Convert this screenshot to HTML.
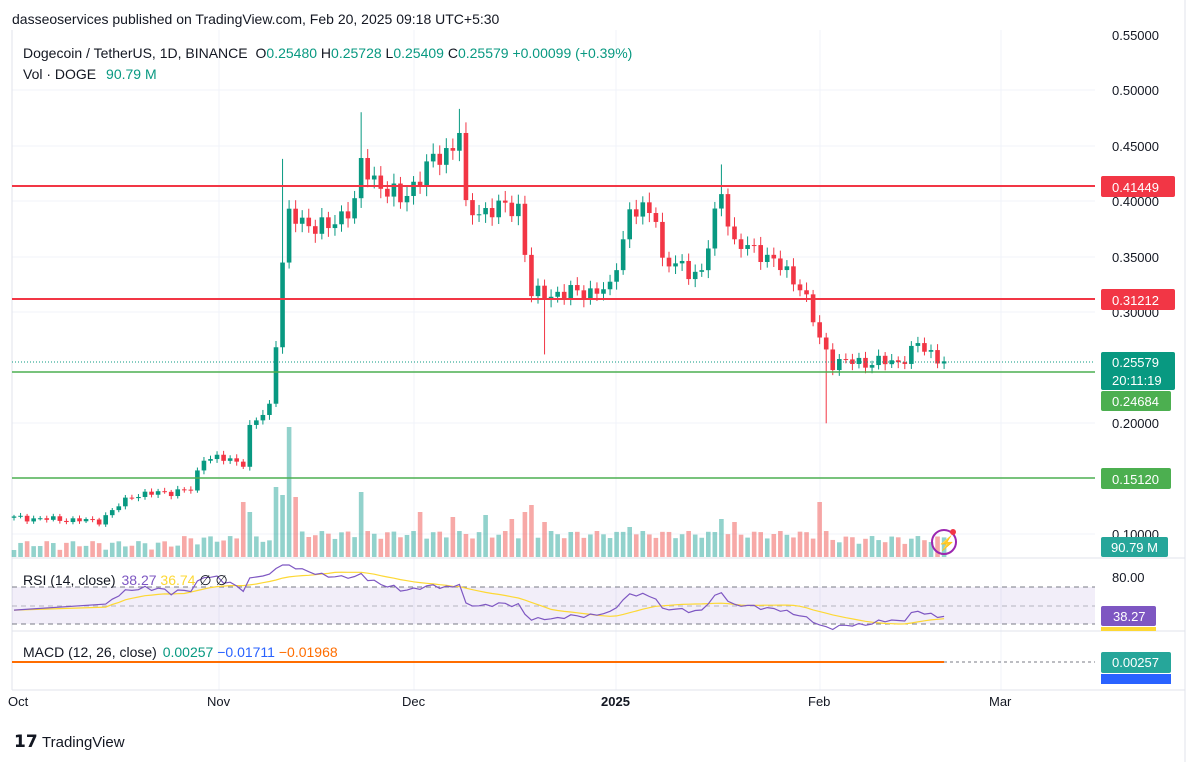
<!DOCTYPE html>
<html><head><meta charset="utf-8"><style>
body{margin:0;background:#fff;width:1199px;height:762px;overflow:hidden;font-family:"Liberation Sans",sans-serif}
svg text{font-family:"Liberation Sans",sans-serif}
</style></head><body>
<svg id="s" width="1199" height="762" xmlns="http://www.w3.org/2000/svg">
<rect width="1199" height="762" fill="#fff"/>
<g stroke="#f0f3fa" stroke-width="1">
<line x1="12" y1="90" x2="1095" y2="90"/><line x1="12" y1="146" x2="1095" y2="146"/><line x1="12" y1="201" x2="1095" y2="201"/><line x1="12" y1="257" x2="1095" y2="257"/><line x1="12" y1="312" x2="1095" y2="312"/><line x1="12" y1="423" x2="1095" y2="423"/><line x1="12" y1="534" x2="1095" y2="534"/>
<line x1="219" y1="30" x2="219" y2="690"/><line x1="414" y1="30" x2="414" y2="690"/><line x1="616" y1="30" x2="616" y2="690"/><line x1="820" y1="30" x2="820" y2="690"/><line x1="1001" y1="30" x2="1001" y2="690"/>
</g>
<line x1="12" y1="30" x2="12" y2="690" stroke="#e0e3eb"/>
<line x1="1185" y1="0" x2="1185" y2="762" stroke="#e0e3eb"/>
<line x1="12" y1="558" x2="1185" y2="558" stroke="#e0e3eb"/>
<line x1="12" y1="631" x2="1185" y2="631" stroke="#e0e3eb"/>
<line x1="12" y1="690" x2="1185" y2="690" stroke="#e0e3eb"/>
<rect x="12" y="587" width="1083" height="37" fill="#7e57c2" opacity="0.1"/>
<g stroke="#787b86" stroke-dasharray="5,4"><line x1="12" y1="587" x2="1095" y2="587"/><line x1="12" y1="606" x2="1095" y2="606" opacity="0.5"/><line x1="12" y1="624" x2="1095" y2="624"/></g>
<g id="vol"></g><g id="cnd"></g><g id="rsi"></g>
<line x1="12" y1="186" x2="1095" y2="186" stroke="#f23645" stroke-width="2"/>
<line x1="12" y1="299" x2="1095" y2="299" stroke="#f23645" stroke-width="2"/>
<line x1="12" y1="372" x2="1095" y2="372" stroke="#4caf50" stroke-width="1.5"/>
<line x1="12" y1="478" x2="1095" y2="478" stroke="#4caf50" stroke-width="1.5"/>
<line x1="12" y1="362" x2="1095" y2="362" stroke="#089981" stroke-dasharray="1,2"/>
<line x1="12" y1="662" x2="944" y2="662" stroke="#ff6d00" stroke-width="2"/>
<line x1="944" y1="662" x2="1095" y2="662" stroke="#787b86" stroke-dasharray="3,3"/>
<g font-size="13" fill="#131722">
<text x="1112" y="40">0.55000</text><text x="1112" y="95">0.50000</text><text x="1112" y="151">0.45000</text><text x="1112" y="206">0.40000</text><text x="1112" y="262">0.35000</text><text x="1112" y="317">0.30000</text><text x="1112" y="428">0.20000</text><text x="1112" y="539">0.10000</text><text x="1112" y="582">80.00</text>
</g>
<rect x="1101" y="176" width="74" height="21" rx="2" fill="#f23645"/><text x="1112" y="192" font-size="13" fill="#fff">0.41449</text>
<rect x="1101" y="289" width="74" height="21" rx="2" fill="#f23645"/><text x="1112" y="305" font-size="13" fill="#fff">0.31212</text>
<rect x="1101" y="352" width="74" height="38" rx="2" fill="#089981"/><text x="1112" y="367" font-size="13" fill="#fff">0.25579</text><text x="1112" y="385" font-size="13" fill="#fff">20:11:19</text>
<rect x="1101" y="391" width="70" height="20" rx="2" fill="#4caf50"/><text x="1112" y="406" font-size="13" fill="#fff">0.24684</text>
<rect x="1101" y="468" width="70" height="21" rx="2" fill="#4caf50"/><text x="1112" y="484" font-size="13" fill="#fff">0.15120</text>
<rect x="1101" y="537" width="67" height="20" rx="2" fill="#26a69a"/><text x="1111" y="552" font-size="13" fill="#fff">90.79 M</text>
<rect x="1101" y="606" width="55" height="20" rx="2" fill="#7e57c2"/><text x="1113" y="621" font-size="13" fill="#fff">38.27</text>
<rect x="1101" y="627" width="55" height="4" fill="#fdd835"/>
<rect x="1101" y="652" width="70" height="21" rx="2" fill="#26a69a"/><text x="1112" y="667" font-size="13" fill="#fff">0.00257</text>
<rect x="1101" y="674" width="70" height="10" fill="#2962ff"/>
<g font-size="13" fill="#131722"><text x="8" y="706">Oct</text><text x="207" y="706">Nov</text><text x="402" y="706">Dec</text><text x="601" y="706" font-weight="bold">2025</text><text x="808" y="706">Feb</text><text x="989" y="706">Mar</text></g>
<text x="12" y="24" font-size="14" fill="#131722">dasseoservices published on TradingView.com, Feb 20, 2025 09:18 UTC+5:30</text>
<text x="23" y="58" font-size="14" fill="#131722">Dogecoin / TetherUS, 1D, BINANCE <tspan dx="4">O</tspan><tspan fill="#089981">0.25480</tspan> <tspan>H</tspan><tspan fill="#089981">0.25728</tspan> <tspan>L</tspan><tspan fill="#089981">0.25409</tspan> <tspan>C</tspan><tspan fill="#089981">0.25579 +0.00099 (+0.39%)</tspan></text>
<text x="23" y="79" font-size="14" fill="#131722">Vol · DOGE <tspan fill="#089981" dx="6">90.79 M</tspan></text>
<text x="23" y="585" font-size="14" fill="#131722">RSI (14, close) <tspan fill="#7e57c2" dx="2">38.27</tspan> <tspan fill="#fdd835">36.74</tspan> <tspan>∅ ∅</tspan></text>
<text x="23" y="657" font-size="14" fill="#131722">MACD (12, 26, close) <tspan fill="#089981" dx="2">0.00257</tspan> <tspan fill="#2962ff">−0.01711</tspan> <tspan fill="#ff6d00">−0.01968</tspan></text>
<circle cx="944" cy="542" r="12" fill="none" stroke="#9c27b0" stroke-width="2"/><text x="938" y="548" font-size="14" fill="#9c27b0">⚡</text><circle cx="953" cy="532" r="3" fill="#f23645"/>
<text x="14" y="747" font-size="17" font-weight="bold" fill="#131722">𝟭𝟳</text>
<text x="42" y="747" font-size="15" fill="#131722">TradingView</text>
</svg>
<script>
var K=[[0,.115],[13,.112],[18,.135],[27,.14],[29,.17],[35,.165],[36,.195],[39,.215],[40,.275],[41,.345],[42,.385],[48,.375],[52,.4],[53,.43],[59,.4],[63,.43],[67,.45],[68,.465],[69,.39],[77,.395],[78,.355],[79,.315],[91,.32],[92,.345],[94,.39],[98,.39],[99,.345],[105,.335],[107,.385],[108,.41],[110,.36],[114,.355],[120,.325],[121,.31],[123,.275],[125,.255],[135,.255],[138,.27],[142,.2558]];
function base(d){for(var i=0;i<K.length-1;i++){if(d>=K[i][0]&&d<=K[i+1][0]){var t=(d-K[i][0])/(K[i+1][0]-K[i][0]||1);return K[i][1]+(K[i+1][1]-K[i][1])*t;}}return .2558;}
function Y(p){return 90+(0.5-p)*1111;}
var C=[],ns="http://www.w3.org/2000/svg";
for(var d=0;d<=142;d++){C.push(base(d)*(1+0.018*Math.sin(d*2.3)+0.01*Math.cos(d*5.1)));}
C[142]=.25579;
var g=document.getElementById('cnd'),v=document.getElementById('vol');
function el(p,tag,a){var e=document.createElementNS(ns,tag);for(var k in a)e.setAttribute(k,a[k]);p.appendChild(e);}
var spikes={40:70,41:62,42:130,35:55,53:65,62:45,67:40,72:42,76:38,78:45,79:52,81:35,94:30,108:38,110:35,123:55,36:45,43:60};
for(var d=0;d<=142;d++){var o=d?C[d-1]:C[0]*0.99,c=C[d],up=c>=o,col=up?'#089981':'#f23645';
var x=14+d*6.55,hi=Math.max(o,c)*(1+0.012+0.01*Math.abs(Math.sin(d*1.7))),lo=Math.min(o,c)*(1-0.012-0.01*Math.abs(Math.cos(d*1.3)));
if(d==68)hi=.483;if(d==81)lo=.262;if(d==124)lo=.2;if(d==41)hi=.438;if(d==53)hi=.48;if(d==108)hi=.433;
el(g,'line',{x1:x,x2:x,y1:Y(hi),y2:Y(lo),stroke:col,'stroke-width':1});
var t=Y(Math.max(o,c)),b=Y(Math.min(o,c));el(g,'rect',{x:x-2.3,y:t,width:4.6,height:Math.max(1,b-t),fill:col});
var h=spikes[d]||(7+9*Math.abs(Math.sin(d*0.9))+(d>40&&d<125?10:(d>25?5:0)));
el(v,'rect',{x:x-2.3,y:557-h,width:4.6,height:h,fill:up?'#26a69a':'#ef5350',opacity:0.5});}
// RSI
var ag=0,al=0,R=[];for(var d=1;d<=142;d++){var ch=C[d]-C[d-1],gn=Math.max(ch,0),ls=Math.max(-ch,0);if(d<=14){ag+=gn/14;al+=ls/14;}else{ag=(ag*13+gn)/14;al=(al*13+ls)/14;}if(d>=14)R.push([d,al?100-100/(1+ag/al):60]);}
R.unshift([0,45]);
function ry(r){return 587+(70-r)*37/40;}
var pts=R.map(function(p){return (14+p[0]*6.55)+','+Math.max(565,ry(p[1])).toFixed(1)}).join(' ');
var pm=[];for(var i=0;i<R.length;i++){var s=0,n=0;for(var j=Math.max(0,i-13);j<=i;j++){s+=R[j][1];n++;}pm.push((14+R[i][0]*6.55)+','+ry(s/n).toFixed(1));}
var r=document.getElementById('rsi');
el(r,'polyline',{points:pm.join(' '),fill:'none',stroke:'#fdd835','stroke-width':1.2});
el(r,'polyline',{points:pts,fill:'none',stroke:'#7e57c2','stroke-width':1.2});
</script>
</body></html>
